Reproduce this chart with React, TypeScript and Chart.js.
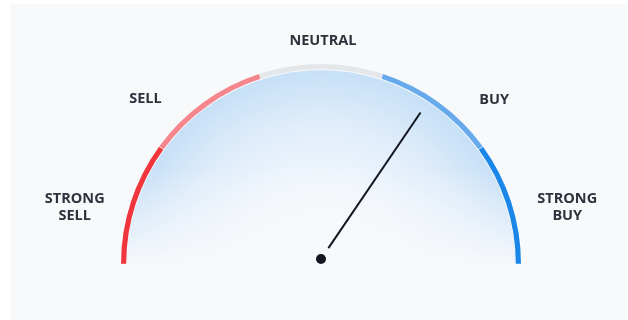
import React, { useEffect, useRef } from "react";
import { Chart, registerables } from "chart.js";

Chart.register(...registerables);

// Gauge zones, from left to right
const categories = ["STRONG\nSELL", "SELL", "NEUTRAL", "BUY", "STRONG\nBUY"];
const segmentSizes = [1, 1, 1, 1, 1];
const segmentColors = ["#F0353D", "#F5868E", "#E4E7EA", "#66AAEC", "#1A86E8"];

// Needle reading on a -1 (strong sell) .. +1 (strong buy) scale
const gaugeMin = -1;
const gaugeMax = 1;
const gaugeValue = 0.38;

const PANEL_BG = "#F8F9FB";
const TEXT_COLOR = "#2E323C";
const NEEDLE_COLOR = "#131722";

// Where each zone caption sits around the dial: angle measured from the left
// end of the arc (degrees) and distance as a multiple of the outer radius.
const LABEL_PLACEMENT = [
  { deg: 13, dist: 1.27 },
  { deg: 43.2, dist: 1.21 },
  { deg: 90.5, dist: 1.12 },
  { deg: 136.5, dist: 1.2 },
  { deg: 167, dist: 1.27 },
];

const gaugePlugin = {
  id: "gaugeDecor",
  beforeDatasetsDraw(chart: any) {
    const arc = chart.getDatasetMeta(0).data[0];
    if (!arc) return;
    const { x, y, innerRadius } = arc.getProps(["x", "y", "innerRadius"], true);
    const ctx: CanvasRenderingContext2D = chart.ctx;
    ctx.save();
    ctx.beginPath();
    ctx.moveTo(x - innerRadius, y);
    ctx.arc(x, y, innerRadius, Math.PI, Math.PI * 2);
    ctx.closePath();
    const rg = ctx.createRadialGradient(x, y, 0, x, y, innerRadius);
    rg.addColorStop(0, "rgba(248,249,251,1)");
    rg.addColorStop(0.4, "rgba(242,247,252,1)");
    rg.addColorStop(0.75, "rgba(222,236,250,1)");
    rg.addColorStop(1, "rgba(198,224,247,1)");
    ctx.fillStyle = rg;
    ctx.fill();
    const lg = ctx.createLinearGradient(0, y - innerRadius * 0.5, 0, y);
    lg.addColorStop(0, "rgba(248,249,251,0)");
    lg.addColorStop(1, "rgba(248,249,251,0.95)");
    ctx.fillStyle = lg;
    ctx.fill();
    ctx.restore();
  },
  afterDatasetsDraw(chart: any) {
    const arc = chart.getDatasetMeta(0).data[0];
    if (!arc) return;
    const { x, y, outerRadius } = arc.getProps(["x", "y", "outerRadius"], true);
    const ctx: CanvasRenderingContext2D = chart.ctx;
    const labels: string[] = chart.data.labels;

    // zone captions
    ctx.save();
    ctx.fillStyle = TEXT_COLOR;
    ctx.font = "bold 14.5px 'Open Sans', 'DejaVu Sans', sans-serif";
    ctx.textAlign = "center";
    ctx.textBaseline = "middle";
    labels.forEach((label, i) => {
      const p = LABEL_PLACEMENT[i];
      const a = Math.PI + (p.deg * Math.PI) / 180;
      const lx = x + Math.cos(a) * outerRadius * p.dist;
      const ly = y + Math.sin(a) * outerRadius * p.dist;
      const lines = label.split("\n");
      const lh = 17;
      lines.forEach((line, j) => {
        ctx.fillText(line, lx, ly + (j - (lines.length - 1) / 2) * lh);
      });
    });
    ctx.restore();

    // needle
    const t = (gaugeValue - gaugeMin) / (gaugeMax - gaugeMin);
    const theta = Math.PI + t * Math.PI;
    const px = x;
    const py = y - 5;
    const r0 = outerRadius * 0.066;
    const r1 = outerRadius * 0.89;
    ctx.save();
    ctx.strokeStyle = NEEDLE_COLOR;
    ctx.lineWidth = 2;
    ctx.beginPath();
    ctx.moveTo(px + Math.cos(theta) * r0, py + Math.sin(theta) * r0);
    ctx.lineTo(px + Math.cos(theta) * r1, py + Math.sin(theta) * r1);
    ctx.stroke();
    ctx.fillStyle = NEEDLE_COLOR;
    ctx.beginPath();
    ctx.arc(px, py, 5, 0, Math.PI * 2);
    ctx.fill();
    ctx.restore();
  },
};

export default function App() {
  const canvasRef = useRef<HTMLCanvasElement | null>(null);

  useEffect(() => {
    document.body.style.margin = "0";
    const canvas = canvasRef.current;
    if (!canvas) return;
    const chart = new Chart(canvas, {
      type: "doughnut",
      data: {
        labels: categories,
        datasets: [
          {
            data: segmentSizes,
            backgroundColor: segmentColors,
            borderWidth: 0,
            spacing: 2,
          } as any,
        ],
      },
      options: {
        responsive: false,
        animation: false,
        devicePixelRatio: 1,
        events: [],
        rotation: -90,
        circumference: 180,
        radius: 199,
        cutout: "97.4%",
        layout: { padding: { left: 122, right: 108, top: 65, bottom: 56 } },
        plugins: {
          legend: { display: false },
          tooltip: { enabled: false },
        },
      } as any,
      plugins: [gaugePlugin],
    });
    return () => chart.destroy();
  }, []);

  return (
    <div style={{ position: "absolute", left: 0, top: 0, width: 628, height: 320, background: "#FFFFFF", overflow: "hidden" }}>
      <div style={{ position: "absolute", left: 10, top: 4, right: 1, bottom: 0, background: PANEL_BG }} />
      <canvas ref={canvasRef} width={628} height={320} style={{ position: "absolute", left: 0, top: 0 }} />
    </div>
  );
}
